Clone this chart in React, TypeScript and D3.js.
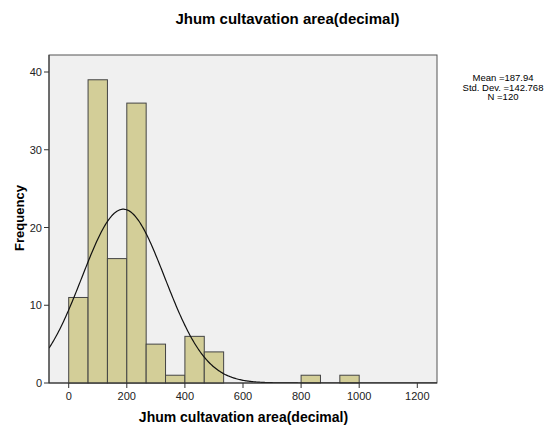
import React from "react";
import * as d3 from "d3";

const binStarts = [0, 66.667, 133.333, 200, 266.667, 333.333, 400, 466.667, 800, 933.333];
const binWidth = 66.667;
const counts = [11, 39, 16, 36, 5, 1, 6, 4, 1, 1];
const xTicks = [0, 200, 400, 600, 800, 1000, 1200];
const yTicks = [0, 10, 20, 30, 40];
const mean = 187.94;
const sd = 142.768;
const n = 120;
const statLines = ["Mean =187.94", "Std. Dev. =142.768", "N =120"];

export default function App() {
  const W = 548, H = 429;
  const left = 49, right = 437, top = 55, bottom = 383;
  const x = d3.scaleLinear().domain([0, 1200]).range([68.7, 417.3]);
  const y = d3.scaleLinear().domain([0, 40]).range([383, 72]);
  const xMin = x.invert(left), xMax = x.invert(right);
  const pts: [number, number][] = d3.range(0, 401).map((i) => {
    const v = xMin + ((xMax - xMin) * i) / 400;
    const f = (n * binWidth) / (sd * Math.sqrt(2 * Math.PI)) * Math.exp(-0.5 * ((v - mean) / sd) ** 2);
    return [v, f];
  });
  const line = d3.line<[number, number]>().x((d) => x(d[0])).y((d) => y(d[1]));
  const font = "Liberation Sans, Arial, sans-serif";
  return (
    <svg width={W} height={H} style={{ position: "absolute", left: 0, top: 0 }} fontFamily={font}>
      <rect x={0} y={0} width={W} height={H} fill="#ffffff" />
      <text x={287.5} y={24} textAnchor="middle" fontSize={15} fontWeight="bold" fill="#000">Jhum cultavation area(decimal)</text>
      <rect x={left} y={top} width={right - left} height={bottom - top} fill="#f0f0f0" stroke="#555" strokeWidth={1} />
      <clipPath id="clip"><rect x={left} y={top} width={right - left} height={bottom - top} /></clipPath>
      {binStarts.map((s, i) => (
        <rect key={i} x={x(s)} y={y(counts[i])} width={x(s + binWidth) - x(s)} height={y(0) - y(counts[i])}
          fill="#d3ce98" stroke="#444" strokeWidth={1} />
      ))}
      <path d={line(pts) || ""} fill="none" stroke="#111" strokeWidth={1.2} clipPath="url(#clip)" />
      <line x1={left} x2={right} y1={bottom} y2={bottom} stroke="#333" />
      <line x1={left} x2={left} y1={top} y2={bottom} stroke="#333" />
      {yTicks.map((t) => (
        <g key={t}>
          <line x1={left - 5} x2={left} y1={y(t)} y2={y(t)} stroke="#333" />
          <text x={left - 7} y={y(t) + 4} textAnchor="end" fontSize={11} fill="#222">{t}</text>
        </g>
      ))}
      {xTicks.map((t) => (
        <g key={t}>
          <line x1={x(t)} x2={x(t)} y1={bottom} y2={bottom + 5} stroke="#333" />
          <text x={x(t)} y={bottom + 17} textAnchor="middle" fontSize={11} fill="#222">{t}</text>
        </g>
      ))}
      <text x={243.5} y={422} textAnchor="middle" fontSize={14} fontWeight="bold" fill="#000">Jhum cultavation area(decimal)</text>
      <text transform={`translate(24,218) rotate(-90)`} textAnchor="middle" fontSize={13} fontWeight="bold" fill="#000">Frequency</text>
      {statLines.map((s, i) => (
        <text key={i} x={503} y={81 + i * 9.5} textAnchor="middle" fontSize={9.5} fill="#000">{s}</text>
      ))}
    </svg>
  );
}
